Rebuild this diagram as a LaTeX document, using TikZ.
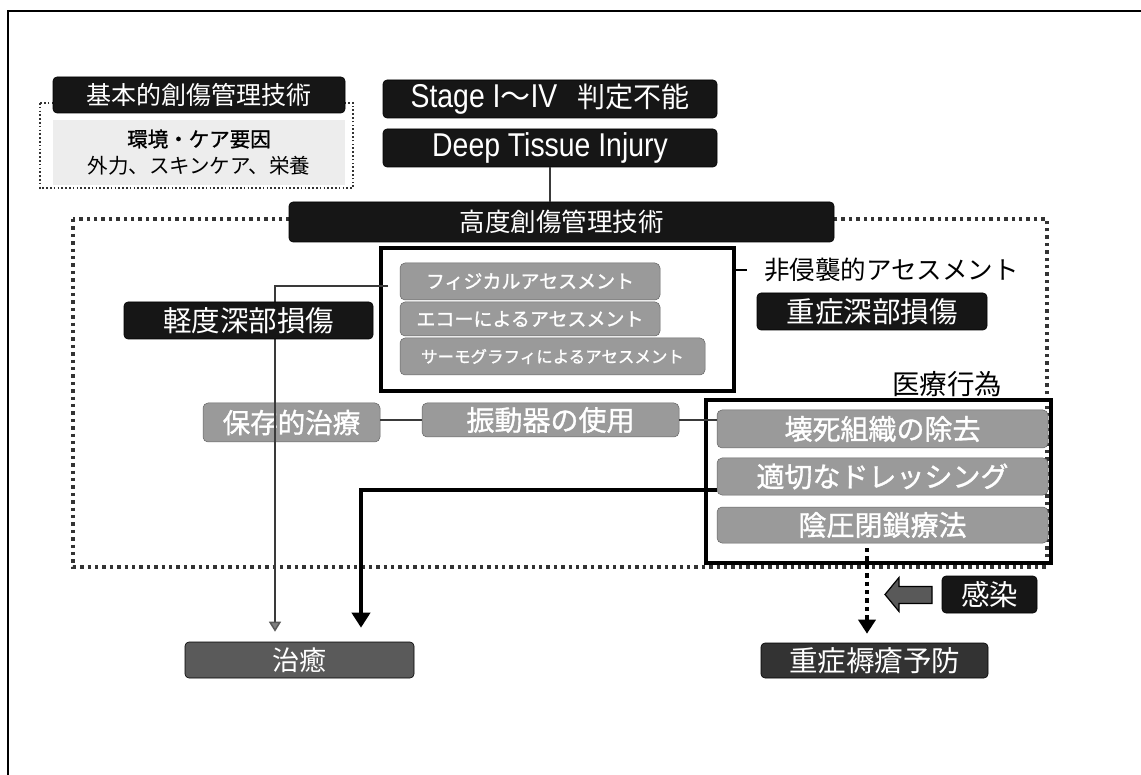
\documentclass[tikz,border=0pt]{standalone}
\usepackage{fontspec}
\setmainfont{Noto Sans CJK JP}
\newfontfamily\lat[FakeStretch=0.86]{Liberation Sans}
\newfontfamily\jpbold[FakeBold=1.2]{Noto Sans CJK JP}
\usetikzlibrary{arrows.meta,calc}
\newcommand\fsz[1]{\fontsize{#1}{#1}\selectfont}
\definecolor{blkfill}{HTML}{161616}
\definecolor{gryfill}{HTML}{9A9A9A}
\definecolor{lightfill}{HTML}{EDEDED}
\definecolor{chiyufill}{HTML}{5A5A5A}
\definecolor{yoboufill}{HTML}{333333}
\definecolor{lineg}{HTML}{3A3A3A}
\tikzset{
  blk/.style={rectangle, rounded corners=4pt, fill=blkfill, draw=black, line width=0.6pt, text=white, inner sep=0pt},
  gry/.style={rectangle, rounded corners=5pt, fill=gryfill, draw=gray!80!black, line width=0.5pt, text=white, inner sep=0pt, execute at begin node=\jpbold},
  frm/.style={rectangle, draw=black, line width=3.8pt, inner sep=0pt},
  plain/.style={inner sep=0pt, text=black},
  bigdots/.style={draw=black!80, line width=3.4pt, dash pattern=on 3.4pt off 4pt},
  smalldots/.style={draw=black!80, line width=1.6pt, dash pattern=on 1.6pt off 2.2pt},
  conn/.style={draw=lineg, line width=2.2pt},
  thinarrow/.style={draw=lineg, line width=1.5pt, -{Triangle[width=12pt,length=10pt,color=gray!70!black,fill=gray]}},
  thickarrow/.style={draw=black, line width=3.8pt, -{Triangle[width=18pt,length=15pt]}},
  dotarrow/.style={draw=black, line width=4.4pt, dash pattern=on 4.4pt off 4pt, -{Triangle[width=17pt,length=14pt]}}
}
\begin{document}
\begin{tikzpicture}[x=1pt,y=-1pt]
\useasboundingbox (0,0) rectangle (1141,775);
\fill[white] (0,0) rectangle (1141,775);
% outer frame (top and left only)
\draw[black, line width=1.8pt] (8,775) -- (8,11) -- (1141,11);

% basic wound management block
\draw[smalldots] (40,103) rectangle (353,188);
\node[rectangle, fill=lightfill, minimum width=292pt, minimum height=65pt, inner sep=0pt, align=center, font={\fontsize{20.5}{27}\selectfont}, text=black] (kihontxt) at (199,152.5)
  {{\jpbold 環境・ケア要因}\\外力、スキンケア、栄養};
\node[blk, minimum width=292pt, minimum height=36pt, font=\fsz{25}] (kihon) at (199,95) {基本的創傷管理技術};

% top boxes
\node[blk, minimum width=334pt, minimum height=38pt] (stage) at (550,99)
  {{\fsz{33}\lat Stage I}{\fsz{30}～}{\fsz{33}\lat IV}\hspace{20pt}{\fsz{28}判定不能}};
\node[blk, minimum width=334pt, minimum height=38pt] (dti) at (550,148) {\fsz{33}\lat Deep Tissue Injury};

% advanced region
\draw[bigdots] (73,219) rectangle (1047,567);
\node[blk, minimum width=545pt, minimum height=40pt, font=\fsz{25.5}] (koudo) at (561.5,222) {高度創傷管理技術};

% assessment frame
\node[frm, minimum width=353pt, minimum height=143pt] (assess) at (557.5,319.5) {};
\node[gry, minimum width=260pt, minimum height=37pt, font=\fsz{19}] (phys) at (530,281.5) {フィジカルアセスメント};
\node[gry, minimum width=260pt, minimum height=34pt, font=\fsz{19}] (echo) at (530,319) {エコーによるアセスメント};
\node[gry, minimum width=305pt, minimum height=37pt, font=\fsz{16.5}] (thermo) at (552.5,356.5) {サーモグラフィによるアセスメント};

\node[plain, anchor=west, font=\fsz{25.5}] (noninv) at (764,270) {非侵襲的アセスメント};
\node[blk, minimum width=230pt, minimum height=37pt, font=\fsz{28.5}] (juusho) at (872,311.5) {重症深部損傷};
\node[plain, font=\fsz{27.5}] (iryou) at (947,384) {医療行為};

% medical frame
\node[frm, minimum width=345pt, minimum height=163pt] (med) at (878.5,481.5) {};
\node[gry, minimum width=331pt, minimum height=38pt, font=\fsz{28}] (esi) at (882.5,429) {壊死組織の除去};
\node[gry, minimum width=331pt, minimum height=37pt, font=\fsz{28}] (tekisetsu) at (882.5,476.5) {適切なドレッシング};
\node[gry, minimum width=331pt, minimum height=36pt, font=\fsz{28}] (inatsu) at (882.5,525) {陰圧閉鎖療法};

\node[gry, minimum width=177pt, minimum height=39pt, font=\fsz{27.5}] (hozon) at (291.5,422.5) {保存的治療};
\node[gry, minimum width=257pt, minimum height=34pt, font=\fsz{28}] (shindou) at (550.5,420) {振動器の使用};

% outcomes
\node[blk, fill=chiyufill, minimum width=229pt, minimum height=36pt, font=\fsz{27}] (chiyu) at (299.5,660) {治癒};
\node[blk, fill=yoboufill, minimum width=227pt, minimum height=35pt, font=\fsz{28.5}] (yobou) at (874.5,660.5) {重症褥瘡予防};
\node[blk, minimum width=95pt, minimum height=37pt, font=\fsz{28.5}] (kansen) at (989.5,594.5) {感染};

% block arrow pointing left toward the dotted arrow
\filldraw[fill=black!65, draw=black, line width=1.2pt]
  (885,594.5) -- (899,577.5) -- (899,586.5) -- (932,586.5) -- (932,603.5) -- (899,603.5) -- (899,611.5) -- cycle;

% connectors
\draw[conn] (dti.south) -- (dti.south |- koudo.north);
\draw[line width=2.4pt, black] ($(juusho.south)+(-5,0)$) -- ($(juusho.south)+(-5,0)$ |- med.north);
\draw[line width=2.4pt, black] (assess.east |- noninv.west) -- ($(noninv.west)+(-17,0)$);
\draw[conn, line width=2.8pt] (hozon.east |- shindou.west) -- (shindou.west);
\draw[conn, line width=2.8pt] (shindou.east) -- (shindou.east -| esi.west);

\coordinate (p1) at (388,286);
\coordinate (p2) at (275,286);
\draw[thinarrow, shorten >=10pt] (p1) -- (p2) -- (p2 |- chiyu.north);

\coordinate (q1) at (361,490);
\draw[thickarrow, shorten >=14pt] (tekisetsu.west |- q1) -- (q1) -- (q1 |- chiyu.north);

\coordinate (r1) at (867,548);
\draw[dotarrow, shorten >=9pt] (r1) -- (r1 |- yobou.north);

% drawn last so that it covers the thin connector passing behind it
\node[blk, minimum width=249pt, minimum height=37pt, font=\fsz{28.5}] (keido) at (248.5,320.5) {軽度深部損傷};
\end{tikzpicture}
\end{document}
